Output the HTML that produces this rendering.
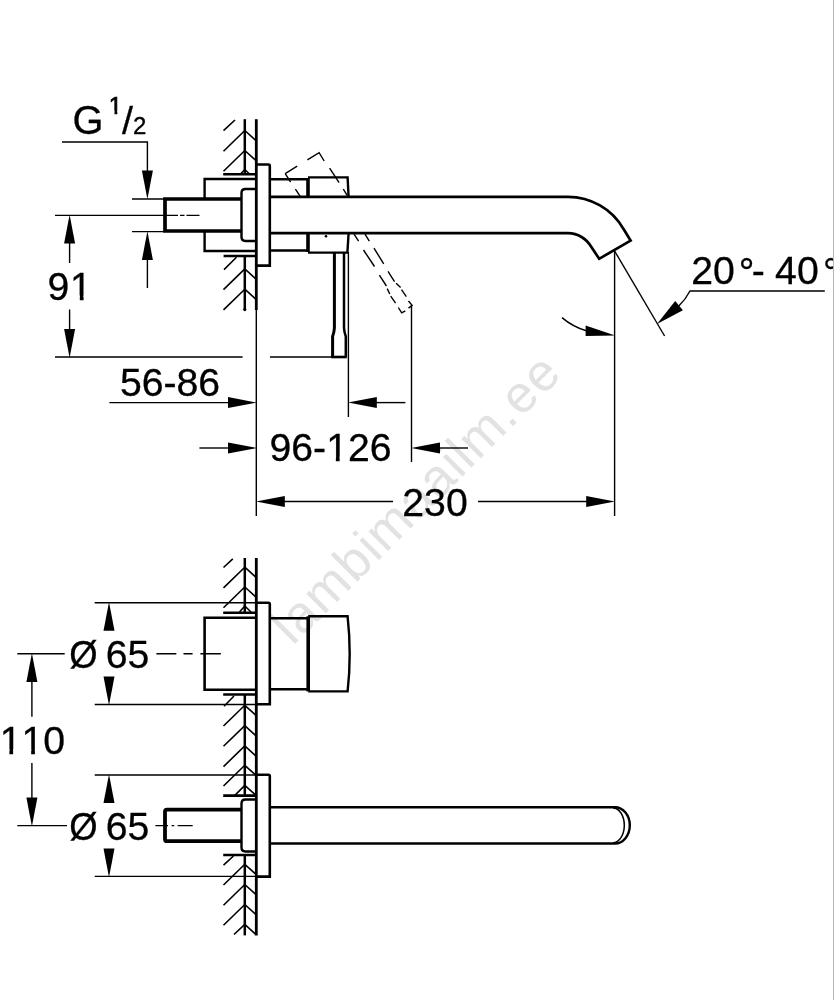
<!DOCTYPE html>
<html><head><meta charset="utf-8"><title>drawing</title>
<style>
html,body{margin:0;padding:0;background:#fff;}
body{width:834px;height:1000px;overflow:hidden;position:relative;font-family:"Liberation Sans",sans-serif;}
svg{position:absolute;left:0;top:0;display:block;will-change:transform;}
text{font-family:"Liberation Sans",sans-serif;fill:#000;}
</style></head><body>
<svg width="834" height="1000" viewBox="0 0 834 1000">
<rect x="0" y="0" width="834" height="1000" fill="#fff"/>
<text transform="translate(292.8,646.2) rotate(-45)" font-size="52" textLength="382" lengthAdjust="spacing" style="fill:#e2e2e2">lambimaailm.ee</text>
<g fill="none" stroke="#000" stroke-width="1.4" stroke-linecap="butt">
<path d="M256.3,310 V516"/>
<path d="M62,142 H147.4 V171"/>
<path d="M132,199 H164 M132,231.6 H164"/>
<path d="M147.4,259 V288"/>
<path d="M55,215.4 H178 M180,215.4 H184.5 M186.5,215.4 H199.5"/>
<path d="M69.6,243 V263 M69.6,309.6 V329"/>
<path d="M55,357 H242.6 M270,357 H333"/>
<path d="M109.4,402.6 H228"/>
<path d="M348.4,252 V417"/>
<path d="M376,402.6 H405.4"/>
<path d="M199.4,448 H228"/>
<path d="M411.5,305.4 V462"/>
<path d="M439,448 H468"/>
<path d="M284,501.5 H393 M478,501.5 H587"/>
<path d="M614.6,251 V516"/>
<path d="M614.6,251 L664.6,336"/>
<path d="M562,317.6 Q573,327 587,331"/>
<path d="M679,305.8 Q685.5,299.5 690,291 H824.8"/>
<path d="M94.7,602.8 H256 M94.7,704.5 H256"/>
<path d="M94.7,775 H256 M94.7,876.4 H256"/>
<path d="M17.3,653.8 H64.7 M156.4,653.8 H176.3 M183.5,653.8 H192.6 M200.4,653.8 H220.8"/>
<path d="M31.9,682 V716.7 M31.9,763 V798"/>
<path d="M17.3,825.6 H67 M155.4,825.6 H168 M171.6,825.6 H174.2 M177.6,825.6 H192.7"/>
</g>
<g fill="none" stroke="#000" stroke-linecap="butt" stroke-linejoin="miter">
<path d="M244.8,119.2 V174" stroke-width="2.5"/>
<path d="M244.8,130.5 L223.5,151.2 M244.8,130.5 L255.5,140.2 M244.8,150.5 L223.5,171.2 M244.8,150.5 L255.5,160.2  M223.5,130.7 L235,120 M244.8,169.5 L241,173.5 M244.8,169.5 L249,173.5" stroke-width="1.6"/>
<path d="M223.2,174.3 H256" stroke-width="2.6" />
<path d="M256.3,119.2 V310" stroke-width="2.8" />
<path d="M223.6,256 H256" stroke-width="2.6" />
<path d="M244.8,256 V309.6" stroke-width="2.5"/>
<path d="M244.8,268.9 L223.5,289.59999999999997 M244.8,268.9 L255.5,278.59999999999997 M244.8,289.2 L223.5,309.9 M244.8,289.2 L255.5,298.9  M224,269.6 L236.5,257.3" stroke-width="1.6"/>
<circle cx="244.8" cy="309.6" r="1.6" fill="#000" stroke="none"/>
<path d="M256.3,164.5 H268.5 Q269.8,164.5 269.8,166 V265.6 H256.3" stroke-width="2.6"/>
<path d="M256,179 H204.6 V199 M204.6,231 V251 H256" stroke-width="2.4" />
<path d="M270,179.3 H308 M270,250.5 H308" stroke-width="2.4" />
<path d="M308,178 V197 M308,233 V252" stroke-width="3.6" />
<path d="M308,177.4 H347.6 L348.6,197 M348.6,233 L347.4,252.6 H308" stroke-width="2.4" />
<path d="M270,196.8 H568 A64,64 0 0 1 623.4,228.8 L630.6,240.6 L599.2,258.8 L591.4,247.1 A27,27 0 0 0 568,233.2 H270" stroke-width="2.7" stroke-linejoin="miter"/>
<path d="M241.5,199 H165 V231 H241.5" stroke-width="3.7" />
<path d="M256,189 H245.5 Q241.5,189 241.5,193 V237 Q241.5,241 245.5,241 H256" stroke-width="2.4" />
<path d="M334.4,252.6 V328 Q334.2,332 332.6,336.5 V357" stroke-width="3.0" />
<path d="M344,252.6 V328 Q344.2,332 345.8,336.5 V357" stroke-width="2.5" />
<path d="M331.2,357 H346.8" stroke-width="2.6" />
<circle cx="326" cy="236.2" r="1.3" fill="#000" stroke="none"/>
<path d="M285.2,173.6 L297.2,166.1 M307.4,159.8 L319.1,152.6 L324.2,161 M329.6,168.2 L339.1,182.6 M343.3,189.2 L347.5,195.8 M285.2,173.6 L290.6,182 M295.4,189.2 L300.2,196.4" stroke-width="1.4"/>
<path d="M354,234.2 L358.6,241.2 M363.5,250 L374.5,266.5 M379.4,275.2 L386.4,286 M387.2,288.6 L389.8,294 M390.7,296.2 L395.6,303.2 M398.3,307.5 L401.7,312.9 L405.3,310.8 M365,234.2 L369.3,241.2 M374,248.2 L383.7,263.8 M388,271.4 L394.5,281.6 M396.1,283.3 L400.6,287.6 M401.5,289.7 L406.3,296.7 M408.5,301 L412.1,305.4 L408.5,308.1" stroke-width="1.4"/>
<path d="M244.8,558 V612.5" stroke-width="2.5"/>
<path d="M244.8,567.2 L223.5,587.9000000000001 M244.8,567.2 L255.5,576.9000000000001 M244.8,587 L223.5,607.7 M244.8,587 L255.5,596.7  M223.5,567.5 L232.8,558.8 M244.8,606 L239.5,612 M244.8,606 L251,612" stroke-width="1.6"/>
<path d="M256.3,558 V935.4" stroke-width="2.8" />
<path d="M223.2,612.8 H256" stroke-width="2.6" />
<path d="M256.3,602.8 H268.5 Q269.8,602.8 269.8,604.2 V704.3 H256.3" stroke-width="2.6"/>
<path d="M256,617.8 H204.6 V689.8 H256" stroke-width="2.6" />
<path d="M270,618.3 H308 M270,689.2 H308" stroke-width="2.4" />
<path d="M308.2,616.3 V691.4" stroke-width="3.6" />
<path d="M308.2,616.3 H347.6 Q351.8,653.8 347.6,691.4 H308.2" stroke-width="2.4" />
<path d="M223.2,694.5 H256" stroke-width="2.6" />
<path d="M244.8,694.5 V795.6" stroke-width="2.5"/>
<path d="M244.8,705.3 L223.5,726.0 M244.8,705.3 L255.5,715.0 M244.8,725.6 L223.5,746.3000000000001 M244.8,725.6 L255.5,735.3000000000001 M244.8,745.9 L223.5,766.6 M244.8,745.9 L255.5,755.6 M244.8,765.3 L223.5,786.0 M244.8,765.3 L255.5,775.0  M224,706.2 L234,696 M244.8,785.4 L255.5,795 M244.8,785.4 L234.6,795.6" stroke-width="1.6"/>
<path d="M223.2,795.6 H256" stroke-width="2.6" />
<path d="M256.3,774.8 H268.5 Q269.8,774.8 269.8,776.2 V876.6 H256.3" stroke-width="2.6"/>
<path d="M241.5,809.6 H167 Q165,809.6 165,811.6 V839.2 Q165,841.2 167,841.2 H241.5" stroke-width="3.8"/>
<path d="M256,799.5 H245.5 Q241.5,799.5 241.5,803.5 V847.5 Q241.5,851.5 245.5,851.5 H256" stroke-width="2.4" />
<path d="M270,807.2 H615 A14.8,18.15 0 0 1 615,843.5 H270" stroke-width="2.4" />
<path d="M613,807.9 A11.3,17.45 0 0 1 613,842.8" stroke-width="1.5"/>
<path d="M223.2,855 H256" stroke-width="2.6" />
<path d="M244.8,855 V935.4" stroke-width="2.5"/>
<path d="M244.8,864.3 L223.5,885.0 M244.8,864.3 L255.5,874.0 M244.8,884.5 L223.5,905.2 M244.8,884.5 L255.5,894.2 M244.8,904.5 L223.5,925.2 M244.8,904.5 L255.5,914.2  M223.5,865.2 L233.5,856 M244.8,924.3 L234,934.5 M244.8,924.3 L255.5,934.2" stroke-width="1.6"/>
</g>
<g fill="#000" stroke="none">
<polygon points="147.4,199.2 141.9,170.4 152.9,170.4"/>
<polygon points="147.4,231.2 152.9,260.0 141.9,260.0"/>
<polygon points="69.6,214.8 75.1,243.6 64.1,243.6"/>
<polygon points="69.6,357.8 64.1,329.0 75.1,329.0"/>
<polygon points="256.8,402.6 228.0,408.1 228.0,397.1"/>
<polygon points="348.0,402.6 376.8,397.1 376.8,408.1"/>
<polygon points="256.8,448.0 228.0,453.5 228.0,442.5"/>
<polygon points="411.2,448.0 440.0,442.5 440.0,453.5"/>
<polygon points="256.0,501.5 284.8,496.0 284.8,507.0"/>
<polygon points="615.0,501.5 586.2,507.0 586.2,496.0"/>
<polygon points="615.2,335.4 585.6,325.6 585.6,335.9"/>
<polygon points="657.0,324.1 675.2,301.0 682.9,310.2"/>
<polygon points="109.0,602.0 114.5,630.8 103.5,630.8"/>
<polygon points="109.0,705.3 103.5,676.5 114.5,676.5"/>
<polygon points="109.0,774.2 114.5,803.0 103.5,803.0"/>
<polygon points="109.0,877.2 103.5,848.4 114.5,848.4"/>
<polygon points="31.9,653.2 37.4,682.0 26.4,682.0"/>
<polygon points="31.9,826.4 26.4,797.6 37.4,797.6"/>
</g>
<g>
<g transform="translate(72.6,133.8) scale(0.96,1)"><text x="0.00" y="0" font-size="41.5" stroke="#000" stroke-width="0.30">G</text></g>
<g transform="translate(108.8,114.4) scale(1.0,1)"><text x="0.00" y="0" font-size="24" stroke="#000" stroke-width="0.70">1</text><rect x="0.12" y="-3.64" width="5.57" height="4.94" fill="#fff"/><rect x="8.51" y="-3.64" width="5.19" height="4.94" fill="#fff"/></g>
<g transform="translate(122,133.9) scale(1.0,1)"><text x="0.00" y="0" font-size="39.5" stroke="#000" stroke-width="0.30">/</text></g>
<g transform="translate(133.0,133.8) scale(1.0,1)"><text x="0.00" y="0" font-size="24" stroke="#000" stroke-width="0.40">2</text></g>
<g transform="translate(47.5,300) scale(1.0,1)"><text x="0.00" y="0" font-size="39.2" stroke="#000" stroke-width="0.30">9</text><text x="22.60" y="0" font-size="39.2" stroke="#000" stroke-width="0.30">1</text><rect x="23.22" y="-4.58" width="9.09" height="5.88" fill="#fff"/><rect x="36.07" y="-4.58" width="8.48" height="5.88" fill="#fff"/></g>
<g transform="translate(119.9,395.6) scale(1.0,1)"><text x="0.00" y="0" font-size="39.2" stroke="#000" stroke-width="0.30">56-86</text></g>
<g transform="translate(269.5,461.4) scale(1.0,1)"><text x="0.00" y="0" font-size="39.2" stroke="#000" stroke-width="0.30">96-</text><text x="56.66" y="0" font-size="39.2" stroke="#000" stroke-width="0.30">1</text><rect x="57.27" y="-4.58" width="9.09" height="5.88" fill="#fff"/><rect x="70.13" y="-4.58" width="8.48" height="5.88" fill="#fff"/><text x="78.46" y="0" font-size="39.2" stroke="#000" stroke-width="0.30">26</text></g>
<g transform="translate(402.3,515.8) scale(1.0,1)"><text x="0.00" y="0" font-size="39.2" stroke="#000" stroke-width="0.30">230</text></g>
<g transform="translate(691.3,283.8) scale(1.0,1)"><text x="0.00" y="0" font-size="39.2" stroke="#000" stroke-width="0.30">20</text></g>
<g transform="translate(738.7,285.1) scale(1.0,1)"><text x="0.00" y="0" font-size="39.2" stroke="#000" stroke-width="0.30">°</text></g>
<g transform="translate(751.7,283.8) scale(1.0,1)"><text x="0.00" y="0" font-size="39.2" stroke="#000" stroke-width="0.30">-</text></g>
<g transform="translate(775.1,283.8) scale(1.0,1)"><text x="0.00" y="0" font-size="39.2" stroke="#000" stroke-width="0.30">40</text></g>
<g transform="translate(823.0,285.1) scale(1.0,1)"><text x="0.00" y="0" font-size="39.2" stroke="#000" stroke-width="0.30">°</text></g>
<g transform="translate(69.2,667.9) scale(0.93,1)"><text x="0.00" y="0" font-size="39.2" stroke="#000" stroke-width="0.30">Ø</text></g>
<g transform="translate(105.7,667.9) scale(1.0,1)"><text x="0.00" y="0" font-size="39.2" stroke="#000" stroke-width="0.30">65</text></g>
<g transform="translate(69.2,839.6) scale(0.93,1)"><text x="0.00" y="0" font-size="39.2" stroke="#000" stroke-width="0.30">Ø</text></g>
<g transform="translate(105.7,839.6) scale(1.0,1)"><text x="0.00" y="0" font-size="39.2" stroke="#000" stroke-width="0.30">65</text></g>
<g transform="translate(-0.35,753.8) scale(1.0,1)"><text x="0.00" y="0" font-size="39.2" stroke="#000" stroke-width="0.30">1</text><rect x="0.62" y="-4.58" width="9.09" height="5.88" fill="#fff"/><rect x="13.47" y="-4.58" width="8.48" height="5.88" fill="#fff"/><text x="21.80" y="0" font-size="39.2" stroke="#000" stroke-width="0.30">1</text><rect x="22.42" y="-4.58" width="9.09" height="5.88" fill="#fff"/><rect x="35.27" y="-4.58" width="8.48" height="5.88" fill="#fff"/><text x="43.60" y="0" font-size="39.2" stroke="#000" stroke-width="0.30">0</text></g>
</g>
<rect x="833" y="0" width="1" height="1000" fill="#b8b8b8"/>
</svg>
</body></html>
